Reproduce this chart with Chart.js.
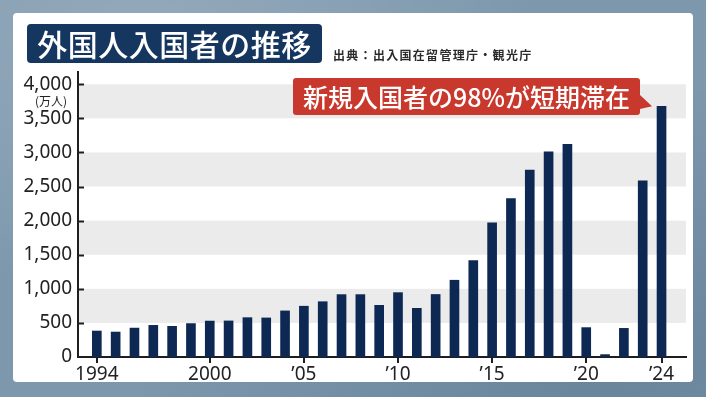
<!DOCTYPE html>
<html lang="ja">
<head>
<meta charset="utf-8">
<script src="https://cdn.jsdelivr.net/npm/chart.js@4/dist/chart.umd.min.js"></script>
<style>
  html, body { margin: 0; padding: 0; }
  body {
    width: 706px; height: 397px; position: relative; overflow: hidden;
    background:
      radial-gradient(ellipse at 20% 10%, rgba(255,255,255,0.18), transparent 50%),
      radial-gradient(ellipse at 85% 90%, rgba(40,70,100,0.25), transparent 55%),
      #7d98ad;
    font-family: "Noto Sans CJK JP", "Noto Sans", sans-serif;
  }
  #panel {
    position: absolute; left: 13px; top: 13px; width: 680px; height: 369px;
    background: #fff; border-radius: 4px;
  }
  #chart { position: absolute; left: 0; top: 0; z-index: 1; }
  .label { position: absolute; z-index: 2; white-space: nowrap; }
  #title {
    left: 27px; top: 24px; width: 295px; height: 39px; line-height: 38px;
    background: #15365f; color: #fff; border-radius: 4px;
    font-size: 30px; font-weight: 500; text-align: center; letter-spacing: 0.5px;
  }
  #source { left: 333px; top: 46px; font-size: 12px; font-weight: 700; color: #2a2a2a; letter-spacing: 1.3px; }
  #unit { left: 35px; top: 92px; font-size: 12px; color: #222; }
  #callout {
    left: 293px; top: 78px; width: 347px; height: 37px; line-height: 36px;
    background: #c9382d; color: #fff; border-radius: 3px;
    font-size: 25px; font-weight: 500; text-align: center;
  }
  #callout::after {
    content: ""; position: absolute; left: 100%; top: 17px; width: 12px; height: 14px;
    background: #c9382d; clip-path: polygon(0 0, 100% 80%, 0 100%);
  }
</style>
</head>
<body>
<div id="panel"></div>
<canvas id="chart" width="706" height="397"></canvas>
<div class="label" id="title">外国人入国者の推移</div>
<div class="label" id="source">出典：出入国在留管理庁・観光庁</div>
<div class="label" id="unit">(万人)</div>
<div class="label" id="callout">新規入国者の98%が短期滞在</div>
<script>
// foreign entrants, 万人
const years = [1994, 1995, 1996, 1997, 1998, 1999, 2000, 2001, 2002, 2003, 2004,
  2005, 2006, 2007, 2008, 2009, 2010, 2011, 2012, 2013, 2014,
  2015, 2016, 2017, 2018, 2019, 2020, 2021, 2022, 2023, 2024];
const entrants = [381, 366, 424, 464, 450, 490, 527, 529, 577, 573, 676,
  745, 811, 915, 915, 758, 944, 714, 917, 1126, 1415,
  1969, 2322, 2743, 3010, 3119, 431, 35, 420, 2584, 3678];
const xTickYears = [1994, 2000, 2005, 2010, 2015, 2020, 2024];
const xTickLabels = ['1994', '2000', '’05', '’10', '’15', '’20', '’24'];
const yTickValues = [0, 500, 1000, 1500, 2000, 2500, 3000, 3500, 4000];
const bands = [[500, 1000], [1500, 2000], [2500, 3000], [3500, 4000]];

const axisColor = '#1e1e1e';
const numFont = { family: '"Noto Sans", sans-serif', size: 19 };

// gray stripes behind bars, inward y tick marks
const stripes = {
  id: 'stripes',
  beforeDatasetsDraw(chart) {
    const { ctx, chartArea, scales } = chart;
    ctx.save();
    ctx.fillStyle = '#ebebeb';
    bands.forEach(([lo, hi]) => {
      const top = scales.y.getPixelForValue(hi);
      const bot = scales.y.getPixelForValue(lo);
      ctx.fillRect(chartArea.left + 1, top, chartArea.right - chartArea.left - 1, bot - top);
    });
    ctx.restore();
  },
  afterDraw(chart) {
    const { ctx, chartArea, scales } = chart;
    ctx.save();
    ctx.strokeStyle = axisColor;
    ctx.lineWidth = 2;
    yTickValues.slice(1).forEach(v => {
      const y = Math.round(scales.y.getPixelForValue(v)) + 0.5;
      ctx.beginPath();
      ctx.moveTo(chartArea.left, y);
      ctx.lineTo(chartArea.left + 6, y);
      ctx.stroke();
    });
    ctx.restore();
  }
};

new Chart(document.getElementById('chart'), {
  type: 'bar',
  data: {
    datasets: [{
      data: years.map((yr, i) => ({ x: yr, y: entrants[i] })),
      backgroundColor: '#0d2953',
      barThickness: 9
    }]
  },
  options: {
    responsive: false,
    animation: false,
    layout: { padding: { top: 72, right: 20, left: 0, bottom: 0 } },
    plugins: { legend: { display: false }, tooltip: { enabled: false } },
    scales: {
      x: {
        type: 'linear',
        offset: false,
        min: 1993,
        max: 2025.3,
        afterBuildTicks: s => { s.ticks = xTickYears.map(v => ({ value: v })); },
        afterFit: s => { s.height = 40; },
        ticks: {
          autoSkip: false,
          maxRotation: 0,
          padding: 0,
          color: '#222',
          font: numFont,
          callback: (v) => xTickLabels[xTickYears.indexOf(v)]
        },
        grid: { offset: false, drawOnChartArea: false, drawTicks: true, tickLength: 6, color: axisColor, lineWidth: 2 },
        border: { display: true, color: axisColor, width: 2 }
      },
      y: {
        min: 0,
        max: 4180,
        afterBuildTicks: s => { s.ticks = yTickValues.map(v => ({ value: v })); },
        afterFit: s => { s.width = 78; },
        ticks: {
          padding: 6,
          color: '#222',
          font: numFont,
          callback: v => v.toLocaleString('en-US')
        },
        grid: { display: false, drawTicks: false },
        border: { display: true, color: axisColor, width: 2 }
      }
    }
  },
  plugins: [stripes]
});
</script>
</body>
</html>
